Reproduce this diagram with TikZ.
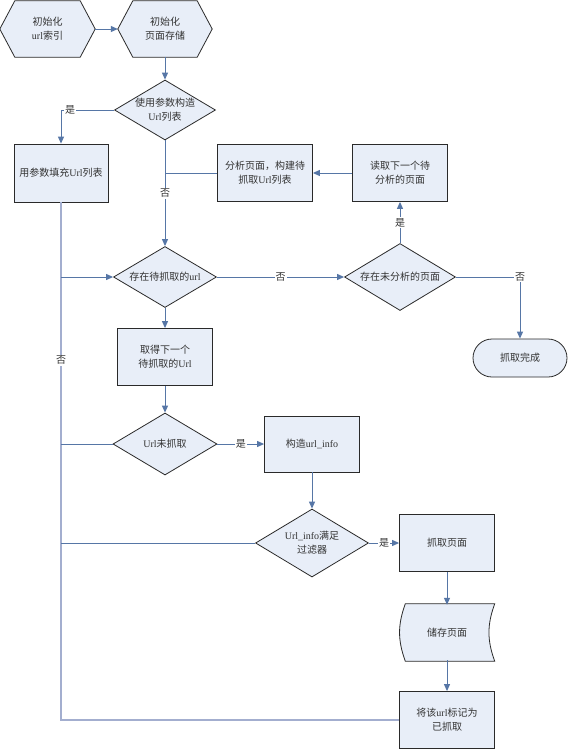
\documentclass[tikz,border=0pt]{standalone}
\usepackage{fontspec}
\setmainfont{Noto Sans CJK SC}
\newfontfamily\lat{Liberation Serif}
\usetikzlibrary{shapes.geometric,arrows.meta,backgrounds,calc}
\definecolor{boxfill}{HTML}{E8EEF8}
\definecolor{linec}{HTML}{5676A6}
\definecolor{loopc}{HTML}{A3AECF}
\definecolor{edgec}{HTML}{2A2A2A}
\tikzset{
  txt/.style={font=\fontsize{10}{14}\selectfont, align=center, text=black!80},
  stepbox/.style={txt, rectangle, draw=edgec, fill=boxfill, line width=0.8pt, minimum width=95pt, minimum height=57pt, inner sep=0pt},
  decision/.style={txt, diamond, draw=edgec, fill=boxfill, line width=0.8pt, inner sep=0pt},
  plainnode/.style={txt, rectangle, minimum width=95pt, minimum height=57pt, inner sep=0pt},
  outline/.style={draw=edgec, fill=boxfill, line width=0.8pt},
  conn/.style={draw=linec, line width=1pt, -{Triangle[length=7pt,width=6pt]}},
  plainconn/.style={draw=linec, line width=1pt},
  loopline/.style={draw=loopc, line width=1.4pt},
  lbl/.style={txt, fill=white, inner sep=1pt},
}
\begin{document}
\begin{tikzpicture}[x=1pt,y=-1pt]
\useasboundingbox (0,0) rectangle (568,750);

% nodes
\node[plainnode, minimum height=56pt] (h1) at (47.5,29) {初始化\\{\lat url}索引};
\node[plainnode, minimum width=94pt, minimum height=56pt] (h2) at (165,29) {初始化\\页面存储};
\node[decision, minimum width=101pt, minimum height=60pt, aspect=1.68] (d1) at (165,110) {使用参数构造\\{\lat Url}列表};
\node[stepbox, minimum width=94pt, minimum height=58pt] (b1) at (61,173) {用参数填充{\lat Url}列表};
\node[stepbox] (b2) at (265,173) {分析页面，构建待\\抓取{\lat Url}列表};
\node[stepbox] (b3) at (400,173) {读取下一个待\\分析的页面};
\node[decision, minimum width=103pt, minimum height=61pt, aspect=1.69] (d2) at (165,277) {存在待抓取的{\lat url}};
\node[decision, minimum width=111pt, minimum height=67pt, aspect=1.66] (d3) at (400,277) {存在未分析的页面};
\node[txt, rectangle, draw=edgec, fill=boxfill, line width=0.8pt, rounded corners=19pt, minimum width=94pt, minimum height=38pt, inner sep=0pt] (t1) at (520,358) {抓取完成};
\node[stepbox] (b4) at (165,357) {取得下一个\\待抓取的{\lat Url}};
\node[decision, minimum width=104pt, minimum height=62pt, aspect=1.68] (d4) at (165,444) {{\lat Url}未抓取};
\node[stepbox, minimum height=56pt] (b5) at (312,444) {构造{\lat url\_info}};
\node[decision, minimum width=113pt, minimum height=68pt, aspect=1.66] (d5) at (312,543) {{\lat Url\_info}满足\\过滤器};
\node[stepbox] (b6) at (447,543) {抓取页面};
\node[plainnode] (s1) at (447,632.5) {储存页面};
\node[stepbox] (b7) at (447,720) {将该{\lat url}标记为\\已抓取};

\begin{scope}[on background layer]
\fill[white] (0,0) rectangle (568,750);
\foreach \h in {h1,h2}{
  \path[outline] (\h.west) -- ([xshift=15pt]\h.north west) -- ([xshift=-15pt]\h.north east)
    -- (\h.east) -- ([xshift=-15pt]\h.south east) -- ([xshift=15pt]\h.south west) -- cycle;
}
\path[outline] ([xshift=6pt]s1.north west) -- (s1.north east)
  to[bend right=20] (s1.south east) -- ([xshift=6pt]s1.south west)
  to[bend left=20] ([xshift=6pt]s1.north west) -- cycle;
\end{scope}

% loop lines
\draw[loopline] (b7.west) -| (b1.south);
\draw[plainconn] (d4.west) -- (d4.west -| b1.south);
\draw[plainconn] (d5.west) -- (d5.west -| b1.south);
\draw[conn] (d2.west -| b1.south) -- (d2.west);
\node[lbl] at ($(b1.south)+(0,158)$) {否};

% connectors
\draw[conn] (h1.east) -- (h2.west);
\draw[conn] (h2.south) -- (d1.north);
\draw[conn] (d1.west) -| node[lbl, pos=0.415] {是} (b1.north);
\draw[conn] (d1.south) -- node[lbl] {否} (d2.north);
\draw[plainconn] (b2.west) -- (b2.west -| d1.south);
\draw[conn] (b3.west) -- (b2.east);
\draw[conn] (d3.north) -- node[lbl] {是} (b3.south);
\draw[conn] (d2.east) -- node[lbl] {否} (d3.west);
\draw[conn] (d3.east) -| node[lbl, pos=0.5] {否} (t1.north);
\draw[conn] (d2.south) -- (b4.north);
\draw[conn] (b4.south) -- (d4.north);
\draw[conn] (d4.east) -- node[lbl] {是} (b5.west);
\draw[conn] (b5.south) -- (d5.north);
\draw[conn] (d5.east) -- node[lbl] {是} (b6.west);
\draw[conn] (b6.south) -- ([yshift=-1pt]s1.north);
\draw[conn] ([yshift=1pt]s1.south) -- (b7.north);
\end{tikzpicture}
\end{document}
